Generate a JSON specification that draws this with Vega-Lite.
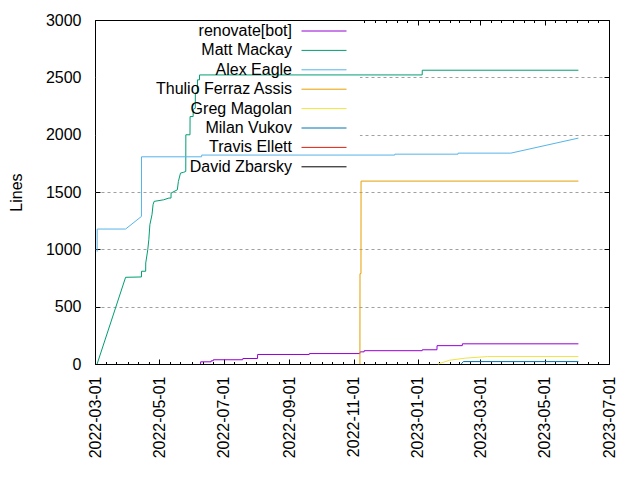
{
  "$schema": "https://vega.github.io/schema/vega-lite/v6.json",
  "width": 514,
  "height": 344,
  "autosize": {"type": "none"},
  "padding": {"left": 95, "top": 20, "right": 31, "bottom": 116},
  "background": "white",
  "config": {
    "view": {"stroke": "black", "strokeWidth": 1},
    "font": "Liberation Sans",
    "axis": {
      "domain": false,
      "grid": false,
      "ticks": true,
      "tickColor": "black",
      "tickOpacity": 1,
      "tickWidth": 1,
      "labelFont": "Liberation Sans",
      "labelFontSize": 16,
      "labelColor": "black",
      "titleFont": "Liberation Sans",
      "titleFontSize": 16,
      "titleFontWeight": "normal",
      "titleColor": "black",
      "labelFlush": false,
      "labelOverlap": false
    }
  },
  "datasets": {
    "commits": [
      {"author": "renovate[bot]", "date": "2022-06-09", "lines": 0},
      {"author": "renovate[bot]", "date": "2022-06-09T02:00:00Z", "lines": 19},
      {"author": "renovate[bot]", "date": "2022-06-19", "lines": 19},
      {"author": "renovate[bot]", "date": "2022-06-19T02:00:00Z", "lines": 28},
      {"author": "renovate[bot]", "date": "2022-06-21", "lines": 28},
      {"author": "renovate[bot]", "date": "2022-06-21T02:00:00Z", "lines": 37},
      {"author": "renovate[bot]", "date": "2022-07-19", "lines": 37},
      {"author": "renovate[bot]", "date": "2022-07-19T02:00:00Z", "lines": 48},
      {"author": "renovate[bot]", "date": "2022-08-02", "lines": 48},
      {"author": "renovate[bot]", "date": "2022-08-02T02:00:00Z", "lines": 83},
      {"author": "renovate[bot]", "date": "2022-09-20", "lines": 83},
      {"author": "renovate[bot]", "date": "2022-09-20T02:00:00Z", "lines": 91},
      {"author": "renovate[bot]", "date": "2022-11-07", "lines": 91},
      {"author": "renovate[bot]", "date": "2022-11-07T02:00:00Z", "lines": 106},
      {"author": "renovate[bot]", "date": "2022-11-11", "lines": 106},
      {"author": "renovate[bot]", "date": "2022-11-11T02:00:00Z", "lines": 116},
      {"author": "renovate[bot]", "date": "2023-01-05", "lines": 116},
      {"author": "renovate[bot]", "date": "2023-01-05T02:00:00Z", "lines": 124},
      {"author": "renovate[bot]", "date": "2023-01-19", "lines": 124},
      {"author": "renovate[bot]", "date": "2023-01-19T02:00:00Z", "lines": 160},
      {"author": "renovate[bot]", "date": "2023-02-12", "lines": 160},
      {"author": "renovate[bot]", "date": "2023-02-12T02:00:00Z", "lines": 176},
      {"author": "renovate[bot]", "date": "2023-06-02", "lines": 176},

      {"author": "Matt Mackay", "date": "2022-03-03", "lines": 0},
      {"author": "Matt Mackay", "date": "2022-03-30", "lines": 756},
      {"author": "Matt Mackay", "date": "2022-04-14", "lines": 759},
      {"author": "Matt Mackay", "date": "2022-04-14T02:00:00Z", "lines": 809},
      {"author": "Matt Mackay", "date": "2022-04-18", "lines": 809},
      {"author": "Matt Mackay", "date": "2022-04-18T02:00:00Z", "lines": 881},
      {"author": "Matt Mackay", "date": "2022-04-20", "lines": 997},
      {"author": "Matt Mackay", "date": "2022-04-21", "lines": 1084},
      {"author": "Matt Mackay", "date": "2022-04-22", "lines": 1215},
      {"author": "Matt Mackay", "date": "2022-04-24", "lines": 1302},
      {"author": "Matt Mackay", "date": "2022-04-25", "lines": 1389},
      {"author": "Matt Mackay", "date": "2022-04-26", "lines": 1418},
      {"author": "Matt Mackay", "date": "2022-05-05", "lines": 1432},
      {"author": "Matt Mackay", "date": "2022-05-10", "lines": 1447},
      {"author": "Matt Mackay", "date": "2022-05-12", "lines": 1447},
      {"author": "Matt Mackay", "date": "2022-05-12T02:00:00Z", "lines": 1491},
      {"author": "Matt Mackay", "date": "2022-05-18", "lines": 1519},
      {"author": "Matt Mackay", "date": "2022-05-19", "lines": 1592},
      {"author": "Matt Mackay", "date": "2022-05-21", "lines": 1665},
      {"author": "Matt Mackay", "date": "2022-05-24", "lines": 1672},
      {"author": "Matt Mackay", "date": "2022-05-26", "lines": 1679},
      {"author": "Matt Mackay", "date": "2022-05-26T02:00:00Z", "lines": 1999},
      {"author": "Matt Mackay", "date": "2022-05-30", "lines": 1999},
      {"author": "Matt Mackay", "date": "2022-05-30T02:00:00Z", "lines": 2158},
      {"author": "Matt Mackay", "date": "2022-06-02", "lines": 2158},
      {"author": "Matt Mackay", "date": "2022-06-02T02:00:00Z", "lines": 2222},
      {"author": "Matt Mackay", "date": "2022-06-04", "lines": 2230},
      {"author": "Matt Mackay", "date": "2022-06-04T02:00:00Z", "lines": 2362},
      {"author": "Matt Mackay", "date": "2022-06-06", "lines": 2362},
      {"author": "Matt Mackay", "date": "2022-06-06T02:00:00Z", "lines": 2478},
      {"author": "Matt Mackay", "date": "2022-06-08", "lines": 2478},
      {"author": "Matt Mackay", "date": "2022-06-08T02:00:00Z", "lines": 2521},
      {"author": "Matt Mackay", "date": "2023-01-05", "lines": 2521},
      {"author": "Matt Mackay", "date": "2023-01-05T02:00:00Z", "lines": 2562},
      {"author": "Matt Mackay", "date": "2023-06-02", "lines": 2562},

      {"author": "Alex Eagle", "date": "2022-03-03", "lines": 980},
      {"author": "Alex Eagle", "date": "2022-03-03T02:00:00Z", "lines": 1177},
      {"author": "Alex Eagle", "date": "2022-03-30", "lines": 1177},
      {"author": "Alex Eagle", "date": "2022-04-14", "lines": 1287},
      {"author": "Alex Eagle", "date": "2022-04-14T02:00:00Z", "lines": 1807},
      {"author": "Alex Eagle", "date": "2022-06-10", "lines": 1807},
      {"author": "Alex Eagle", "date": "2022-06-10T02:00:00Z", "lines": 1822},
      {"author": "Alex Eagle", "date": "2022-12-10", "lines": 1822},
      {"author": "Alex Eagle", "date": "2022-12-10T02:00:00Z", "lines": 1830},
      {"author": "Alex Eagle", "date": "2023-02-08", "lines": 1830},
      {"author": "Alex Eagle", "date": "2023-02-08T02:00:00Z", "lines": 1839},
      {"author": "Alex Eagle", "date": "2023-03-30", "lines": 1839},
      {"author": "Alex Eagle", "date": "2023-06-02", "lines": 1970},

      {"author": "Thulio Ferraz Assis", "date": "2022-11-07", "lines": 0},
      {"author": "Thulio Ferraz Assis", "date": "2022-11-07T02:00:00Z", "lines": 788},
      {"author": "Thulio Ferraz Assis", "date": "2022-11-08", "lines": 788},
      {"author": "Thulio Ferraz Assis", "date": "2022-11-08T02:00:00Z", "lines": 1595},
      {"author": "Thulio Ferraz Assis", "date": "2023-06-02", "lines": 1595},

      {"author": "Greg Magolan", "date": "2023-01-20", "lines": 0},
      {"author": "Greg Magolan", "date": "2023-01-31", "lines": 33},
      {"author": "Greg Magolan", "date": "2023-02-15", "lines": 51},
      {"author": "Greg Magolan", "date": "2023-03-08", "lines": 65},
      {"author": "Greg Magolan", "date": "2023-06-02", "lines": 65},

      {"author": "Milan Vukov", "date": "2023-02-11", "lines": 0},
      {"author": "Milan Vukov", "date": "2023-02-13", "lines": 21},
      {"author": "Milan Vukov", "date": "2023-06-02", "lines": 21}
    ]
  },
  "layer": [
    {
      "data": {"values": [{}]},
      "mark": {"type": "rect", "fill": "white"},
      "encoding": {
        "x": {
          "datum": {"year": 2022, "month": 3, "date": 2, "utc": true},
          "type": "temporal",
          "scale": {"type": "utc", "domain": [1646092800000, 1688169600000], "nice": false},
          "axis": {
            "orient": "bottom",
            "title": null,
            "ticks": false,
            "labels": true,
            "values": [1646092800000, 1651363200000, 1656633600000, 1661990400000, 1667260800000, 1672531200000, 1677628800000, 1682899200000, 1688169600000],
            "labelExpr": "utcFormat(datum.value, '%Y-%m-%d')",
            "labelAngle": 270,
            "labelAlign": "right",
            "labelBaseline": "middle",
            "labelPadding": 12
          }
        },
        "x2": {"datum": {"year": 2022, "month": 11, "date": 7, "utc": true}},
        "y": {
          "datum": 1650,
          "type": "quantitative",
          "scale": {"domain": [0, 3000], "nice": false},
          "axis": {
            "orient": "left",
            "title": "Lines",
            "titlePadding": 21,
            "ticks": false,
            "format": "d",
            "values": [0, 500, 1000, 1500, 2000, 2500, 3000],
            "labelPadding": 14
          }
        },
        "y2": {"datum": 2992}
      }
    },
    {
      "data": {"values": [{}]},
      "mark": {"type": "rect", "opacity": 0},
      "encoding": {
        "x": {
          "datum": {"year": 2022, "month": 3, "date": 2, "utc": true},
          "type": "temporal",
          "scale": {"type": "utc", "domain": [1646092800000, 1688169600000], "nice": false},
          "axis": {
            "orient": "bottom",
            "title": null,
            "labels": false,
            "ticks": true,
            "tickSize": 2.5,
            "offset": -2.5,
            "values": [1646956800000, 1647820800000, 1648771200000, 1649635200000, 1650499200000, 1652227200000, 1653091200000, 1654041600000, 1654905600000, 1655769600000, 1657497600000, 1658448000000, 1659312000000, 1660176000000, 1661126400000, 1662854400000, 1663718400000, 1664668800000, 1665532800000, 1666396800000, 1668124800000, 1668988800000, 1669939200000, 1670803200000, 1671667200000, 1673395200000, 1674259200000, 1675123200000, 1675900800000, 1676764800000, 1678492800000, 1679356800000, 1680307200000, 1681171200000, 1682035200000, 1683763200000, 1684627200000, 1685577600000, 1686441600000, 1687305600000]
          }
        },
        "x2": {"datum": {"year": 2022, "month": 11, "date": 7, "utc": true}},
        "y": {
          "datum": 1650,
          "type": "quantitative",
          "scale": {"domain": [0, 3000], "nice": false},
          "axis": {
            "orient": "left",
            "title": null,
            "labels": false,
            "ticks": false,
            "grid": true,
            "gridColor": "#a0a0a0",
            "gridDash": [3, 3],
            "gridWidth": 1,
            "values": [500, 1000, 1500, 2000, 2500]
          }
        },
        "y2": {"datum": 2992}
      }
    },
    {
      "data": {"values": [{}]},
      "mark": {"type": "rect", "opacity": 0},
      "encoding": {
        "x": {
          "datum": {"year": 2022, "month": 3, "date": 2, "utc": true},
          "type": "temporal",
          "scale": {"type": "utc", "domain": [1646092800000, 1688169600000], "nice": false},
          "axis": {
            "orient": "top",
            "title": null,
            "labels": false,
            "ticks": true,
            "tickSize": 2.5,
            "offset": -2.5,
            "values": [1646956800000, 1647820800000, 1648771200000, 1649635200000, 1650499200000, 1652227200000, 1653091200000, 1654041600000, 1654905600000, 1655769600000, 1657497600000, 1658448000000, 1659312000000, 1660176000000, 1661126400000, 1662854400000, 1663718400000, 1664668800000, 1665532800000, 1666396800000, 1668124800000, 1668988800000, 1669939200000, 1670803200000, 1671667200000, 1673395200000, 1674259200000, 1675123200000, 1675900800000, 1676764800000, 1678492800000, 1679356800000, 1680307200000, 1681171200000, 1682035200000, 1683763200000, 1684627200000, 1685577600000, 1686441600000, 1687305600000]
          }
        },
        "x2": {"datum": {"year": 2022, "month": 11, "date": 7, "utc": true}},
        "y": {
          "datum": 1650,
          "type": "quantitative",
          "scale": {"domain": [0, 3000], "nice": false},
          "axis": null
        },
        "y2": {"datum": 2992}
      }
    },
    {
      "data": {"values": [{}]},
      "mark": {"type": "rect", "opacity": 0},
      "encoding": {
        "x": {
          "datum": {"year": 2022, "month": 3, "date": 2, "utc": true},
          "type": "temporal",
          "scale": {"type": "utc", "domain": [1646092800000, 1688169600000], "nice": false},
          "axis": {
            "orient": "top",
            "title": null,
            "labels": false,
            "ticks": true,
            "tickSize": 5,
            "offset": -5,
            "values": [1646092800000, 1651363200000, 1656633600000, 1661990400000, 1667260800000, 1672531200000, 1677628800000, 1682899200000, 1688169600000]
          }
        },
        "x2": {"datum": {"year": 2022, "month": 11, "date": 7, "utc": true}},
        "y": {
          "datum": 1650,
          "type": "quantitative",
          "scale": {"domain": [0, 3000], "nice": false},
          "axis": {
            "orient": "right",
            "title": null,
            "labels": false,
            "ticks": true,
            "tickSize": 5,
            "offset": -5,
            "values": [0, 500, 1000, 1500, 2000, 2500, 3000]
          }
        },
        "y2": {"datum": 2992}
      }
    },
    {
      "data": {"name": "commits"},
      "mark": {"type": "line", "strokeWidth": 1, "interpolate": "linear"},
      "encoding": {
        "x": {
          "field": "date",
          "type": "temporal",
          "scale": {"type": "utc", "domain": [1646092800000, 1688169600000], "nice": false},
          "axis": {
            "orient": "bottom",
            "title": null,
            "labels": false,
            "ticks": true,
            "tickSize": 5,
            "offset": -5,
            "values": [1646092800000, 1651363200000, 1656633600000, 1661990400000, 1667260800000, 1672531200000, 1677628800000, 1682899200000, 1688169600000]
          }
        },
        "y": {
          "field": "lines",
          "type": "quantitative",
          "scale": {"domain": [0, 3000], "nice": false},
          "axis": {
            "orient": "left",
            "title": null,
            "labels": false,
            "ticks": true,
            "tickSize": 5,
            "offset": -5,
            "values": [0, 500, 1000, 1500, 2000, 2500, 3000]
          }
        },
        "color": {
          "field": "author",
          "type": "nominal",
          "scale": {
            "domain": ["renovate[bot]", "Matt Mackay", "Alex Eagle", "Thulio Ferraz Assis", "Greg Magolan", "Milan Vukov", "Travis Ellett", "David Zbarsky"],
            "range": ["#9400d3", "#009e73", "#56b4e9", "#e69f00", "#f0e442", "#0072b2", "#e51e10", "#000000"]
          },
          "legend": {
            "orient": "none",
            "legendX": 221,
            "legendY": 3,
            "direction": "vertical",
            "title": null,
            "padding": 0,
            "symbolType": "M-5,0H5",
            "symbolSize": 81,
            "symbolStrokeWidth": 1,
            "labelFont": "Liberation Sans",
            "labelFontSize": 16,
            "labelColor": "black",
            "labelAlign": "right",
            "labelOffset": -40,
            "labelLimit": 400,
            "rowPadding": 3.4
          }
        }
      }
    }
  ],
  "resolve": {"axis": {"x": "independent", "y": "independent"}}
}
